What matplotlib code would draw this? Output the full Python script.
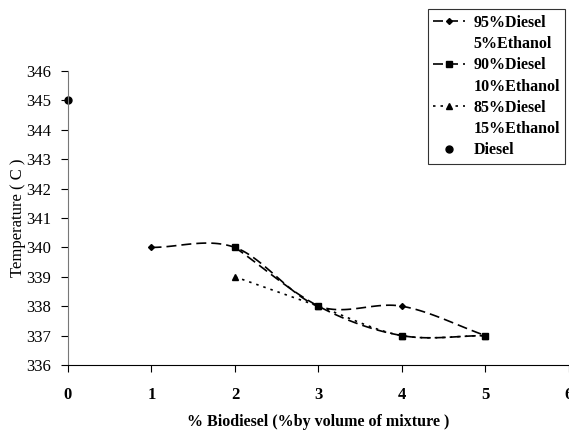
import matplotlib.pyplot as plt
import numpy as np
from matplotlib.lines import Line2D

plt.rcParams['font.family'] = ['Liberation Serif', 'DejaVu Serif']

# blend data (temperature in C vs % biodiesel)
x95 = [1, 2, 3, 4, 5]
t95 = [340, 340, 338, 338, 337]
x90 = [2, 3, 4, 5]
t90 = [340, 338, 337, 337]
x85 = [2, 3, 4, 5]
t85 = [339, 338, 337, 337]
x_diesel = [0]
t_diesel = [345]


def smooth(xs, ys, n=30):
    # catmull-rom curve through the points, like a spreadsheet "smoothed line"
    p = np.column_stack([xs, ys]).astype(float)
    p = np.vstack([p[0] - (p[1] - p[0]), p, p[-1] + (p[-1] - p[-2])])
    out = []
    for i in range(1, len(p) - 2):
        p0, p1, p2, p3 = p[i - 1], p[i], p[i + 1], p[i + 2]
        t = np.linspace(0, 1, n)[:, None]
        c = 0.5 * ((2 * p1) + (-p0 + p2) * t + (2 * p0 - 5 * p1 + 4 * p2 - p3) * t ** 2
                   + (-p0 + 3 * p1 - 3 * p2 + p3) * t ** 3)
        out.append(c)
    c = np.vstack(out)
    return c[:, 0], c[:, 1]


fig = plt.figure(figsize=(5.69, 4.36), dpi=100)
ax = fig.add_axes([0.1195, 0.1628, 0.8805, 0.6743])

sx, sy = smooth(x95, t95)
ax.plot(sx, sy, color='black', lw=1.2, dashes=(6, 3))
ax.plot(x95, t95, ls='none', marker='D', ms=3, color='black')

sx, sy = smooth(x90, t90)
ax.plot(sx, sy, color='black', lw=1.2, dashes=(6, 3))
ax.plot(x90, t90, ls='none', marker='s', ms=4, color='black')

sx, sy = smooth(x85, t85)
ax.plot(sx, sy, color='black', lw=1.2, dashes=(1.5, 3))
ax.plot(x85, t85, ls='none', marker='^', ms=4, color='black')

ax.plot(x_diesel, t_diesel, ls='none', marker='o', ms=5, color='black', clip_on=False)

ax.set_xlim(0, 6)
ax.set_ylim(336, 346)
ax.set_xticks(range(0, 7))
ax.set_yticks(range(336, 347))
ax.spines['top'].set_visible(False)
ax.spines['right'].set_visible(False)
ax.spines['left'].set_color('#777777')
ax.tick_params(axis='both', direction='out', length=5, width=0.8)
ax.tick_params(axis='x', pad=11, labelsize=12)
ax.tick_params(axis='y', pad=7, labelsize=12, colors='black')
for lab in ax.get_xticklabels():
    lab.set_fontweight('bold')

fig.text(0.559, 0.032, '% Biodiesel (%by volume of mixture )', ha='center', va='center',
         fontsize=11.5, fontweight='bold')
fig.text(0.032, 0.5, 'Temperature ( C )', ha='center', va='center', rotation='vertical',
         fontsize=12)

blank = Line2D([], [], ls='none')
handles = [
    Line2D([], [], color='black', lw=1.2, dashes=(6, 3), marker='D', ms=3),
    blank,
    Line2D([], [], color='black', lw=1.2, dashes=(6, 3), marker='s', ms=4),
    blank,
    Line2D([], [], color='black', lw=1.2, dashes=(1.5, 3), marker='^', ms=4),
    blank,
    Line2D([], [], ls='none', marker='o', ms=5, color='black'),
]
labels = ['95%Diesel', '5%Ethanol', '90%Diesel', '10%Ethanol', '85%Diesel', '15%Ethanol', 'Diesel']
leg = fig.legend(handles, labels, loc='upper left', bbox_to_anchor=(0.752, 0.979),
                 borderaxespad=0, frameon=True, fancybox=False, edgecolor='black',
                 handlelength=2.0, handletextpad=0.5, labelspacing=0.33, borderpad=0.35,
                 prop={'weight': 'bold', 'size': 11.5})
leg.get_frame().set_linewidth(0.8)

fig.savefig('out.png', dpi=100)
